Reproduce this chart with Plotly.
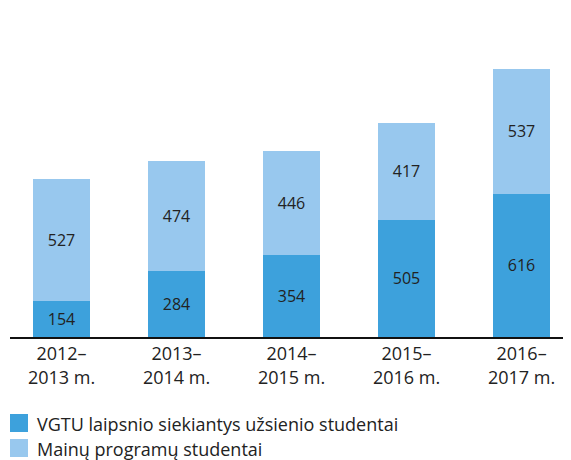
import plotly.graph_objects as go

categories = ["2012–<br>2013 m.", "2013–<br>2014 m.", "2014–<br>2015 m.", "2015–<br>2016 m.", "2016–<br>2017 m."]
degree_students = [154, 284, 354, 505, 616]
exchange_students = [527, 474, 446, 417, 537]
series_names = ["VGTU laipsnio siekiantys užsienio studentai", "Mainų programų studentai"]
colors = ["#3DA1DC", "#98C8EE"]

FONT = "Open Sans"
TXT = "#222222"

fig = go.Figure()
for vals, name, col in [(degree_students, series_names[0], colors[0]),
                        (exchange_students, series_names[1], colors[1])]:
    fig.add_trace(go.Bar(
        x=list(range(len(categories))), y=vals, name=name,
        marker=dict(color=col, line=dict(width=0)),
        width=0.5,
        text=[str(v) for v in vals], textposition="inside",
        insidetextanchor="middle",
        textfont=dict(family=FONT, size=16, color=TXT),
        constraintext="none",
        showlegend=False,
    ))

# page has an 8px body margin; figure coordinates = page coordinates - 8
OFF = 8
W, H = 571 - OFF, 460 - OFF
L, R, T, B = 10 - OFF, 0, 0, H - (337 - OFF)
pw, ph = W - L - R, H - T - B

def px_to_paper_x(px):
    return (px - OFF - L) / pw

def py_to_paper_y(py):
    return (H - B - (py - OFF)) / ph

shapes = []
annotations = []
for i, (name, col) in enumerate(zip(series_names, colors)):
    top = 414 + i * 25
    shapes.append(dict(type="rect", xref="paper", yref="paper",
                       x0=px_to_paper_x(10), x1=px_to_paper_x(28),
                       y0=py_to_paper_y(top + 18), y1=py_to_paper_y(top),
                       fillcolor=col, line=dict(width=0)))
    annotations.append(dict(xref="paper", yref="paper", x=px_to_paper_x(35),
                            y=py_to_paper_y(top + 10), text=name, showarrow=False,
                            xanchor="left", yanchor="middle",
                            font=dict(family=FONT, size=18, color=TXT)))

fig.update_layout(
    barmode="stack",
    width=W, height=H,
    margin=dict(l=L, r=R, t=T, b=B, pad=0),
    paper_bgcolor="white", plot_bgcolor="white",
    xaxis=dict(range=[-0.4478, 4.430], tickmode="array",
               tickvals=list(range(len(categories))), ticktext=categories,
               showline=True, linecolor="#111111", linewidth=1.5,
               showgrid=False, zeroline=False, ticks="",
               tickfont=dict(family=FONT, size=18, color=TXT)),
    yaxis=dict(range=[0, 1416], visible=False, showgrid=False, zeroline=False),
    shapes=shapes, annotations=annotations,
    uniformtext=dict(mode=False),
)

fig.write_html("out.html")
